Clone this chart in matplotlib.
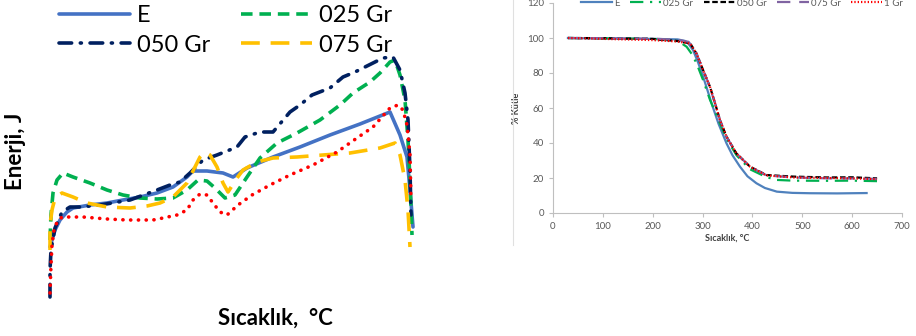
import matplotlib.pyplot as plt
from matplotlib.lines import Line2D

plt.rcParams['font.family'] = ['Lato', 'DejaVu Sans']

# ---- left panel: energy vs temperature (no scale shown, arbitrary units)
e_x = [50, 52, 55, 60, 67, 73, 90, 107, 123, 140, 157, 173, 187, 193, 207, 223, 233, 247,
       273, 300, 330, 360, 390, 400, 407, 410, 413]
e_y = [53, 60, 70, 80, 88, 92, 95, 97, 100, 103, 107, 113, 123, 129, 129, 127, 123, 132,
       143, 153, 165, 176, 188, 165, 143, 110, 73]

g025_x = [50, 51, 53, 57, 63, 73, 90, 107, 123, 140, 157, 173, 187, 198, 207, 215, 225, 235,
          247, 260, 277, 297, 320, 340, 353, 370, 380, 390, 395, 400, 405, 408, 410, 412]
g025_y = [60, 85, 107, 120, 127, 123, 117, 110, 105, 102, 101, 102, 110, 120, 119, 112, 102, 105,
          123, 142, 157, 167, 180, 195, 207, 218, 227, 238, 240, 225, 200, 160, 120, 65]

g050_x = [50, 50, 51, 55, 62, 70, 80, 100, 130, 157, 170, 180, 190, 203, 217, 237, 245, 260,
          273, 290, 300, 312, 330, 343, 355, 373, 383, 393, 400, 405, 408, 410, 411]
g050_y = [3, 30, 50, 72, 88, 93, 93, 95, 100, 110, 115, 118, 127, 140, 145, 153, 163, 168,
          168, 188, 195, 205, 212, 223, 228, 237, 242, 243, 230, 207, 180, 130, 85]

g075_x = [50, 50, 52, 55, 62, 73, 87, 107, 130, 147, 160, 173, 187, 195, 200, 205, 210, 217,
          223, 228, 237, 243, 257, 273, 297, 323, 350, 380, 395, 400, 405, 408, 410]
g075_y = [50, 75, 90, 102, 107, 103, 97, 93, 92, 94, 97, 103, 117, 133, 143, 148, 145, 133,
          117, 108, 122, 130, 138, 142, 143, 145, 147, 152, 157, 145, 120, 90, 53]

g1_x = [50, 51, 52, 54, 57, 62, 70, 83, 107, 127, 140, 153, 163, 177, 187, 193, 200, 207,
        213, 220, 227, 238, 252, 270, 290, 313, 337, 357, 373, 390, 398, 403, 407, 410, 411]
g1_y = [7, 35, 55, 70, 78, 83, 83, 83, 81, 80, 80, 80, 82, 85, 90, 100, 106, 105,
        97, 88, 85, 95, 105, 115, 125, 135, 148, 162, 173, 192, 195, 190, 175, 145, 100]

# ---- right panel: TGA, % mass vs temperature
tga_e_t = [30, 100, 200, 250, 265, 271, 281, 291, 301, 310, 318, 332, 348, 360, 375, 390,
           408, 425, 449, 480, 515, 570, 629]
tga_e_m = [100, 99.7, 99.5, 99.2, 98.3, 97, 93, 86, 78, 70, 62.7, 51, 39.8, 33, 26.5, 21,
           17, 14.3, 12.2, 11.5, 11.3, 11.2, 11.4]

tga_025_t = [30, 100, 200, 240, 255, 268, 278, 288, 301, 315, 325, 335, 348, 368, 395, 428,
             449, 480, 550, 600, 650]
tga_025_m = [100, 99.8, 99.5, 98.8, 97.5, 95, 91, 85.5, 76, 64.6, 58, 51, 42.5, 33, 25, 20.5,
             18.9, 18.5, 18.4, 18.5, 18.2]

tga_050_t = [30, 100, 200, 215, 250, 275, 288, 301, 315, 325, 335, 348, 368, 395, 428, 482,
             550, 600, 650]
tga_050_m = [100, 99.9, 99.5, 99, 98.3, 97, 91, 81.7, 72, 62.7, 53, 43.6, 34, 26.5, 21.7, 20.8,
             20.3, 20.4, 19.8]

tga_075_t = [30, 100, 200, 250, 272, 285, 298, 312, 325, 335, 348, 368, 395, 428, 482, 550,
             600, 650]
tga_075_m = [100, 99.9, 99.6, 99, 97.8, 93, 84, 74, 62.7, 53, 43.6, 34, 26.5, 21.5, 20.3, 19.8,
             19.7, 19.5]

tga_1_t = [30, 100, 200, 250, 275, 288, 301, 315, 325, 335, 348, 368, 395, 428, 482, 550,
           600, 650]
tga_1_m = [100, 99.5, 98.8, 98, 96.8, 91, 81.7, 72, 62.7, 53, 43.6, 34, 26.5, 21.5, 20.3, 20,
           19.8, 19.3]

fig = plt.figure(figsize=(9.16, 3.36), dpi=100)
W, H = 916, 336

# left axes mapped to pixel-like units
axl = fig.add_axes([40 / W, 1 - 305 / H, 380 / W, 265 / H])
le, = axl.plot(e_x, e_y, color='#4472C4', lw=2.6, solid_capstyle='round')
l025, = axl.plot(g025_x, g025_y, color='#00B050', lw=2.6, ls=(0, (3.2, 1.9)))
l050, = axl.plot(g050_x, g050_y, color='#002060', lw=2.6, ls=(0, (3.5, 2.4, 0.3, 2.4)),
                 dash_capstyle='round')
l075, = axl.plot(g075_x, g075_y, color='#FFC000', lw=2.6, ls=(0, (5.2, 3.0)))
axl.plot(g1_x, g1_y, color='#FF0000', lw=2.6, ls=(0, (0.05, 2.1)), dash_capstyle='round')
axl.set_xlim(40, 420)
axl.set_ylim(-5, 260)
axl.axis('off')

# column-major fill: E / 050 in first column, 025 / 075 in second
fig.legend([le, l050, l025, l075], ['E', '050 Gr', '025 Gr', '075 Gr'],
           loc='upper left', bbox_to_anchor=(50 / W, 1 + 4 / H), ncol=2, frameon=False,
           fontsize=17, handlelength=3.0, handletextpad=0.3, columnspacing=1.3,
           labelspacing=0.35, borderaxespad=0)
fig.text(16 / W, 1 - 151 / H, 'Enerji, J', rotation=90, ha='center', va='center',
         fontsize=16, fontweight='bold')
fig.text(275 / W, 1 - 318 / H, 'Sıcaklık,  °C', ha='center', va='center',
         fontsize=16, fontweight='bold')

# right axes
axr = fig.add_axes([553 / W, 1 - 213 / H, 349 / W, 210 / H])
axr.plot(tga_e_t, tga_e_m, color='#4F81BD', lw=1.6, label='E')
axr.plot(tga_025_t, tga_025_m, color='#00B050', lw=1.6, ls=(0, (6, 3, 1, 3)), label='025 Gr')
axr.plot(tga_050_t, tga_050_m, color='#000000', lw=1.6, ls=(0, (2.5, 1.2)), label='050 Gr')
axr.plot(tga_075_t, tga_075_m, color='#8064A2', lw=1.6, ls=(0, (6, 4)), label='075 Gr')
axr.plot(tga_1_t, tga_1_m, color='#FF0000', lw=1.6, ls=(0, (0.6, 0.9)), label='1 Gr')
axr.set_xlim(0, 700)
axr.set_ylim(0, 120)
axr.set_xticks(range(0, 701, 100))
axr.set_yticks(range(0, 121, 20))
for s in ['top', 'right']:
    axr.spines[s].set_visible(False)
for s in ['left', 'bottom']:
    axr.spines[s].set_color('#BFBFBF')
    axr.spines[s].set_linewidth(0.8)
axr.tick_params(colors='#BFBFBF', labelcolor='#595959', labelsize=7, length=3, width=0.8)
axr.set_xlabel('Sıcaklık, °C', fontsize=6.5, fontweight='bold', color='#404040', labelpad=2)
axr.set_ylabel('% Kütle', fontsize=6.5, fontweight='bold', color='#404040', labelpad=4)
fig.legend(*axr.get_legend_handles_labels(), loc='center', ncol=5, frameon=False,
           bbox_to_anchor=(742 / W, 1 - 3 / H), fontsize=7, handlelength=3.2,
           handletextpad=0.2, columnspacing=1.1, labelcolor='#595959')

fig.add_artist(Line2D([513 / W, 513 / W], [1 - 245 / H, 1], color='#E0E0E0', lw=0.8))

fig.savefig('out.png', dpi=100)
